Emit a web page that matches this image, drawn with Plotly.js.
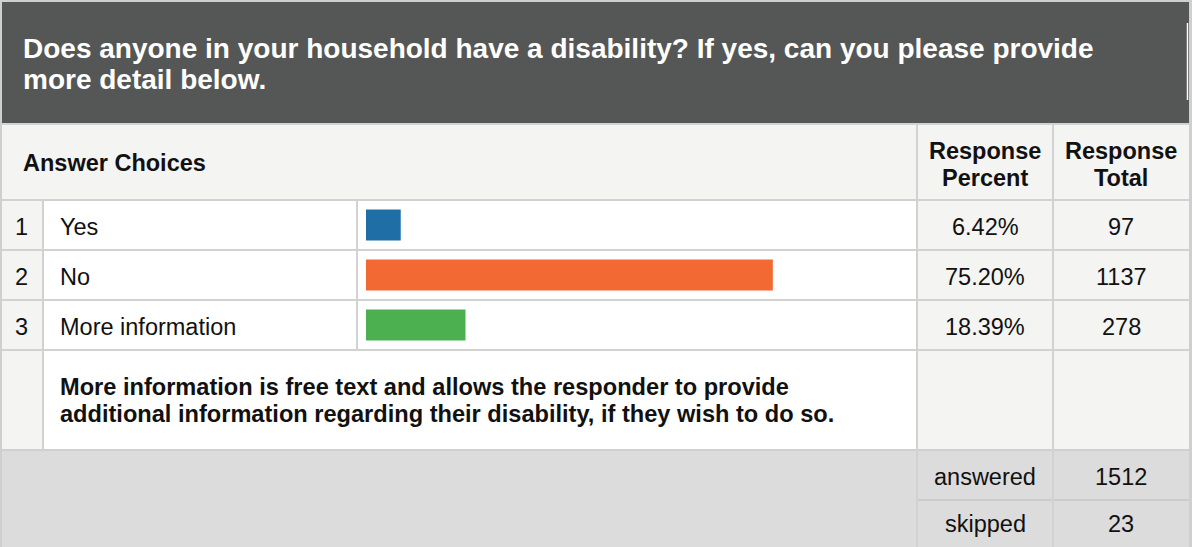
<!DOCTYPE html>
<html><head><meta charset="utf-8">
<script src="https://cdn.plot.ly/plotly-3.0.1.min.js"></script>
<style>html,body{margin:0;padding:0;background:#cfcfcf;}#chart{width:1192px;height:547px;}</style>
</head><body><div id="chart"></div>
<script>
// ---- data ----
const titleLines = ['Does anyone in your household have a disability? If yes, can you please provide', 'more detail below.'];
const answerHeader = 'Answer Choices';
const percentHeader = ['Response', 'Percent'];
const totalHeader = ['Response', 'Total'];
const rowNums = ['1', '2', '3'];
const choices = ['Yes', 'No', 'More information'];
const percents = [6.42, 75.20, 18.39];
const totals = [97, 1137, 278];
const barColors = ['#1f6fa6', '#f26934', '#4caf50'];
const noteLines = ['More information is free text and allows the responder to provide', 'additional information regarding their disability, if they wish to do so.'];
const summaryLabels = ['answered', 'skipped'];
const summaryValues = [1512, 23];

// ---- geometry (pixels) ----
const W = 1192, H = 547;
const font = 'Liberation Sans, Arial, sans-serif';
const rowY = [200, 250, 300, 350];
const lineCol = '#d2d2d2';

const shapes = [];
function rect(x0, y0, x1, y1, fill) {
  shapes.push({type: 'rect', xref: 'x', yref: 'y', x0, y0, x1, y1, fillcolor: fill, line: {width: 0}, layer: 'below'});
}
function seg(x0, y0, x1, y1, color, w) {
  shapes.push({type: 'line', xref: 'x', yref: 'y', x0, y0, x1, y1, line: {color: color || lineCol, width: w || 2}, layer: 'below'});
}
// backgrounds
rect(2, 2, 1189, 123, '#555756');
rect(2, 123, 1189, 200, '#f4f4f3');
rect(2, 200, 43, 450, '#f4f4f3');
rect(43, 200, 917, 450, '#ffffff');
rect(917, 200, 1189, 450, '#f4f4f3');
rect(2, 450, 1189, 547, '#dcdcdc');
rect(1189, 0, 1192, 547, '#cfcfcf');
seg(1187.5, 23, 1187.5, 100, '#ffffff', 1.5);
// grid lines
seg(2, 124, 1189, 124);
[200, 250, 300, 350].forEach(y => seg(2, y, 1189, y));
seg(2, 450, 1189, 450, '#cfcfcf', 2);
seg(917, 500, 1189, 500, '#cccccc', 2);
seg(43, 200, 43, 450);
seg(357, 200, 357, 350);
seg(917, 124, 917, 547);
seg(1053, 124, 1053, 547);
seg(1, 0, 1, 547, '#cfcfcf', 2);

const annotations = [];
function txt(x, y, text, size, bold, color, anchor) {
  annotations.push({xref: 'x', yref: 'y', x, y, text: bold ? '<b>' + text + '</b>' : text, showarrow: false,
    xanchor: anchor || 'left', yanchor: 'middle', font: {family: font, size, color: color || '#111111'}});
}
txt(21, 48.5, titleLines[0], 28, true, '#ffffff');
txt(21, 79, titleLines[1], 28, true, '#ffffff');
txt(21, 163, answerHeader, 23.5, true);
txt(985, 151, percentHeader[0], 23.5, true, '#111111', 'center');
txt(985, 178, percentHeader[1], 23.5, true, '#111111', 'center');
txt(1121, 151, totalHeader[0], 23.5, true, '#111111', 'center');
txt(1121, 178, totalHeader[1], 23.5, true, '#111111', 'center');
for (let i = 0; i < choices.length; i++) {
  const yc = (rowY[i] + rowY[i + 1]) / 2 + 1.5;
  txt(21, yc, rowNums[i], 23.5, false, '#111111', 'center');
  txt(58, yc, choices[i], 23.5, false);
  txt(985, yc, percents[i].toFixed(2) + '%', 23.5, false, '#111111', 'center');
  txt(1121, yc, String(totals[i]), 23.5, false, '#111111', 'center');
}
txt(58, 387, noteLines[0], 23.6, true);
txt(58, 413.5, noteLines[1], 23.6, true);
summaryLabels.forEach((lab, i) => {
  const yc = i === 0 ? 477 : 524;
  txt(985, yc, lab, 23.5, false, '#111111', 'center');
  txt(1121, yc, String(summaryValues[i]), 23.5, false, '#111111', 'center');
});

const trace = {
  type: 'bar', orientation: 'h', x: percents, y: choices, xaxis: 'x2', yaxis: 'y2',
  marker: {color: barColors, line: {width: 0}}, width: 0.62, hoverinfo: 'skip'
};

const layout = {
  width: W, height: H, margin: {l: 0, r: 0, t: 0, b: 0, pad: 0},
  paper_bgcolor: '#cfcfcf', plot_bgcolor: 'rgba(0,0,0,0)', showlegend: false,
  xaxis: {range: [0, W], visible: false, fixedrange: true, domain: [0, 1]},
  yaxis: {range: [H, 0], visible: false, fixedrange: true, domain: [0, 1]},
  xaxis2: {range: [0, 100], visible: false, domain: [366 / W, 907 / W], anchor: 'y2'},
  yaxis2: {autorange: 'reversed', type: 'category', visible: false, domain: [(H - 350) / H, (H - 200) / H], anchor: 'x2'},
  shapes, annotations
};
Plotly.newPlot('chart', [trace], layout, {displayModeBar: false, staticPlot: true});
</script></body></html>
